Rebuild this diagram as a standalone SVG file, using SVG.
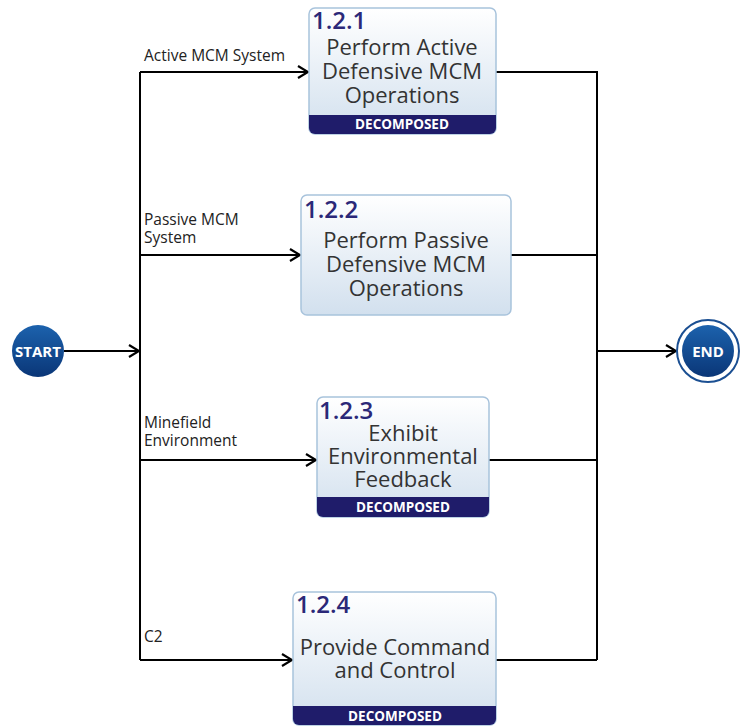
<svg xmlns="http://www.w3.org/2000/svg" width="740" height="726" viewBox="0 0 740 726">
<defs>
<linearGradient id="boxg" x1="0" y1="0" x2="0" y2="1">
<stop offset="0" stop-color="#ffffff"/>
<stop offset="1" stop-color="#d2e0ee"/>
</linearGradient>
<linearGradient id="circg" x1="0" y1="0" x2="0" y2="1">
<stop offset="0" stop-color="#1c62ad"/>
<stop offset="1" stop-color="#0a3677"/>
</linearGradient>
<marker id="arr" markerWidth="14" markerHeight="14" refX="12" refY="7" orient="auto" markerUnits="userSpaceOnUse">
<path d="M2,1 L12,7 L2,13" fill="none" stroke="#000" stroke-width="2.2"/>
</marker>
<style>
.box{fill:url(#boxg);stroke:#a8c3dc;stroke-width:1.5}
.bar{fill:#1f1c6a}
.num{font-family:"Open Sans",sans-serif;font-size:24px;font-weight:600;fill:#2b2878}
.body{font-family:"Open Sans",sans-serif;font-size:22px;fill:#333;text-anchor:middle}
.dec{font-family:"Open Sans",sans-serif;font-size:13.5px;font-weight:700;fill:#fff;text-anchor:middle}
.lbl{font-family:"Open Sans",sans-serif;font-size:15.5px;fill:#222}
.ln{fill:none;stroke:#000;stroke-width:2}
.ct{font-family:"Open Sans",sans-serif;font-size:15px;font-weight:700;fill:#fff;text-anchor:middle}
</style>
</defs>
<rect width="740" height="726" fill="#fff"/>
<g id="connectors">
<line class="ln" x1="64" y1="351" x2="139" y2="351" marker-end="url(#arr)"/>
<polyline class="ln" points="140,660 140,72"/>
<line class="ln" x1="140" y1="72" x2="308" y2="72" marker-end="url(#arr)"/>
<line class="ln" x1="140" y1="255" x2="300" y2="255" marker-end="url(#arr)"/>
<line class="ln" x1="140" y1="460" x2="316" y2="460" marker-end="url(#arr)"/>
<line class="ln" x1="140" y1="660" x2="292" y2="660" marker-end="url(#arr)"/>
<polyline class="ln" points="496,72 597,72 597,660"/>
<line class="ln" x1="511" y1="255" x2="597" y2="255"/>
<line class="ln" x1="489" y1="460" x2="597" y2="460"/>
<line class="ln" x1="496" y1="660" x2="597" y2="660"/>
<line class="ln" x1="597" y1="351" x2="676" y2="351" marker-end="url(#arr)"/>
<text class="lbl" x="144" y="61">Active MCM System</text>
<text class="lbl" x="144" y="225">Passive MCM</text>
<text class="lbl" x="144" y="243">System</text>
<text class="lbl" x="144" y="428">Minefield</text>
<text class="lbl" x="144" y="446">Environment</text>
<text class="lbl" x="144" y="642">C2</text>
</g>
<g id="start">
<circle cx="38" cy="351" r="26" fill="url(#circg)"/>
<text class="ct" x="38" y="357">START</text>
</g>
<g id="end">
<circle cx="708" cy="351" r="31" fill="#fff" stroke="#1b4f92" stroke-width="2"/>
<circle cx="708" cy="351" r="26" fill="url(#circg)"/>
<text class="ct" x="708" y="357">END</text>
</g>
<g id="n121">
<rect class="box" x="309" y="8" width="187" height="126" rx="6"/>
<path class="bar" d="M309,115 H496 V128 a6,6 0 0 1 -6,6 H315 a6,6 0 0 1 -6,-6 Z"/>
<text class="num" x="312" y="29">1.2.1</text>
<text class="body" x="402" y="55">Perform Active</text>
<text class="body" x="402" y="79">Defensive MCM</text>
<text class="body" x="402" y="103">Operations</text>
<text class="dec" x="402" y="129">DECOMPOSED</text>
</g>
<g id="n122">
<rect class="box" x="301" y="195" width="210" height="120" rx="6"/>
<text class="num" x="304" y="218">1.2.2</text>
<text class="body" x="406" y="248">Perform Passive</text>
<text class="body" x="406" y="272">Defensive MCM</text>
<text class="body" x="406" y="296">Operations</text>
</g>
<g id="n123">
<rect class="box" x="317" y="397" width="172" height="120" rx="6"/>
<path class="bar" d="M317,497 H489 V511 a6,6 0 0 1 -6,6 H323 a6,6 0 0 1 -6,-6 Z"/>
<text class="num" x="319" y="419">1.2.3</text>
<text class="body" x="403" y="441">Exhibit</text>
<text class="body" x="403" y="464">Environmental</text>
<text class="body" x="403" y="487">Feedback</text>
<text class="dec" x="403" y="512">DECOMPOSED</text>
</g>
<g id="n124">
<rect class="box" x="293" y="592" width="203" height="133" rx="6"/>
<path class="bar" d="M293,706 H496 V719 a6,6 0 0 1 -6,6 H299 a6,6 0 0 1 -6,-6 Z"/>
<text class="num" x="296" y="613">1.2.4</text>
<text class="body" x="395" y="655">Provide Command</text>
<text class="body" x="395" y="678">and Control</text>
<text class="dec" x="395" y="721">DECOMPOSED</text>
</g>
</svg>
